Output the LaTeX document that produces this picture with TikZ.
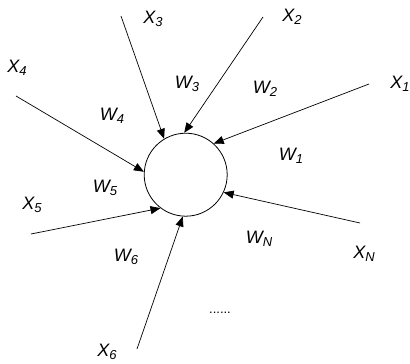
\documentclass[tikz,border=0pt]{standalone}
\usepackage{fontspec}
\setmainfont{Liberation Sans}
\usetikzlibrary{arrows.meta}
\newcommand{\symsub}[2]{#1\raisebox{-3.5pt}{\fontsize{13}{13}\selectfont #2}}
\tikzset{
  lbl/.style={inner sep=0pt, font=\fontsize{18}{20}\selectfont\itshape},
  inarrow/.style={draw=black, line width=0.7pt, -{Triangle[length=10pt,width=8pt]}},
  neuron/.style={circle, draw=black, line width=0.8pt, minimum size=83pt, inner sep=0pt}
}
\begin{document}
\begin{tikzpicture}[x=1pt,y=-1pt]
\useasboundingbox (0,0) rectangle (410,364);
\node[neuron] (c) at (185.7,174.7) {};
\coordinate (s1) at (369,84);
\coordinate (s2) at (263,17);
\coordinate (s3) at (121,16);
\coordinate (s4) at (16,96);
\coordinate (s5) at (31,234);
\coordinate (s6) at (137,349);
\coordinate (sN) at (360,223);
\draw[inarrow] (s1) -- (c.48);
\draw[inarrow] (s2) -- (c.92);
\draw[inarrow] (s3) -- (c.121.7);
\draw[inarrow] (s4) -- (c.176);
\draw[inarrow] (s5) -- (c.233.4);
\draw[inarrow] (s6) -- (c.266);
\draw[inarrow] (sN) -- (c.335.7);
\node[lbl] (x1) at (400,84) {\symsub{X}{1}};
\node[lbl] (x2) at (292,17) {\symsub{X}{2}};
\node[lbl] (x3) at (153,19) {\symsub{X}{3}};
\node[lbl] (x4) at (17,68) {\symsub{X}{4}};
\node[lbl] (x5) at (32,205) {\symsub{X}{5}};
\node[lbl] (x6) at (107,352) {\symsub{X}{6}};
\node[lbl] (xN) at (364,254) {\symsub{X}{N}};
\node[lbl] (w1) at (291,156) {\symsub{W}{1}};
\node[lbl] (w2) at (265,89) {\symsub{W}{2}};
\node[lbl] (w3) at (187,84) {\symsub{W}{3}};
\node[lbl] (w4) at (112,116) {\symsub{W}{4}};
\node[lbl] (w5) at (105,188) {\symsub{W}{5}};
\node[lbl] (w6) at (126,257) {\symsub{W}{6}};
\node[lbl] (wN) at (259,239) {\symsub{W}{N}};
\node[inner sep=0pt, font=\fontsize{13}{13}\selectfont] (dots) at (220,313) {......};
\end{tikzpicture}
\end{document}
